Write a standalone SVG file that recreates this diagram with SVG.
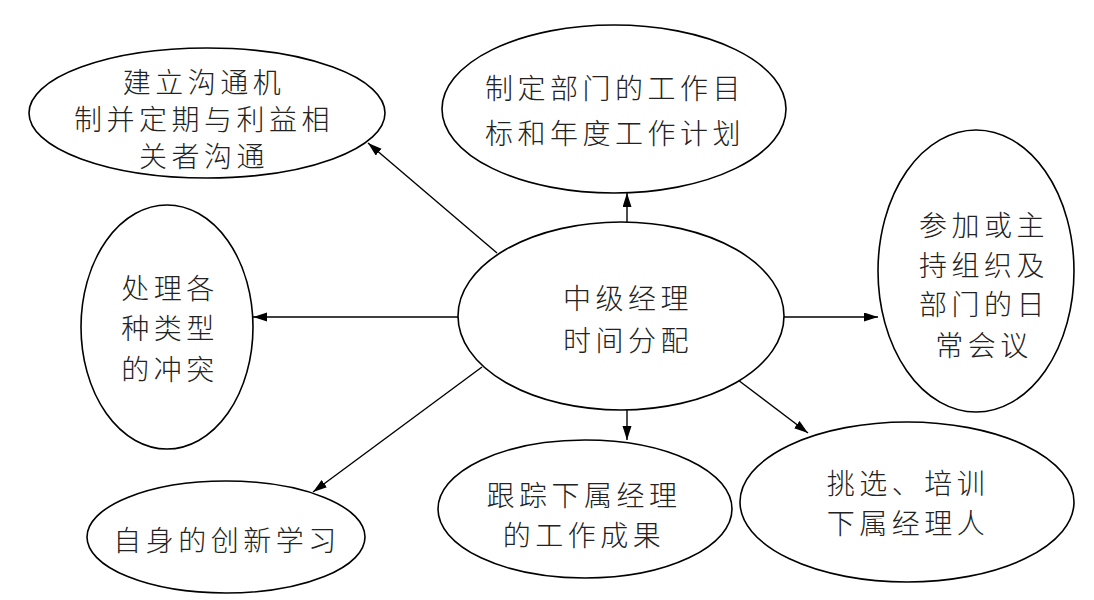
<svg xmlns="http://www.w3.org/2000/svg" width="1094" height="600" viewBox="0 0 1094 600">
<style>
.node ellipse{fill:#fff;stroke:#000;stroke-width:1.6}
.node text{font-family:"Noto Sans CJK SC","Noto Sans",sans-serif;font-size:28px;font-weight:300;letter-spacing:4.5px;fill:#222;text-anchor:middle}
.conn line{stroke:#000;stroke-width:1.4;marker-end:url(#arr)}
</style>
<defs>
<marker id="arr" markerUnits="userSpaceOnUse" markerWidth="15" markerHeight="10" refX="14" refY="4.5" orient="auto">
<path d="M0,0 L14,4.5 L0,9 z" fill="#000"/>
</marker>
</defs>
<rect width="1094" height="600" fill="#fff"/>
<g id="connectors" class="conn">
<line x1="497" y1="253" x2="368" y2="143"/>
<line x1="627" y1="222" x2="627" y2="193"/>
<line x1="784" y1="317" x2="878" y2="317"/>
<line x1="459" y1="317" x2="253" y2="317"/>
<line x1="482" y1="367" x2="313" y2="492"/>
<line x1="627" y1="410" x2="627" y2="440"/>
<line x1="738" y1="380" x2="808" y2="433"/>
</g>
<g id="n-center" class="node">
<ellipse cx="621" cy="316" rx="163" ry="94"/>
<text x="628" y="309">中级经理</text>
<text x="628" y="351">时间分配</text>
</g>
<g id="n-topleft" class="node">
<ellipse cx="207" cy="113" rx="178" ry="65"/>
<text x="204" y="93">建立沟通机</text>
<text x="204" y="130">制并定期与利益相</text>
<text x="204" y="167">关者沟通</text>
</g>
<g id="n-top" class="node">
<ellipse cx="614" cy="109" rx="172" ry="84"/>
<text x="615" y="99">制定部门的工作目</text>
<text x="615" y="144">标和年度工作计划</text>
</g>
<g id="n-right" class="node">
<ellipse cx="976" cy="271" rx="98" ry="141"/>
<text x="984" y="236">参加或主</text>
<text x="984" y="276">持组织及</text>
<text x="984" y="315">部门的日</text>
<text x="984" y="356">常会议</text>
</g>
<g id="n-left" class="node">
<ellipse cx="167" cy="327" rx="86" ry="122"/>
<text x="170" y="299">处理各</text>
<text x="170" y="339">种类型</text>
<text x="170" y="380">的冲突</text>
</g>
<g id="n-bottomleft" class="node">
<ellipse cx="226" cy="537" rx="139" ry="56"/>
<text x="227" y="551">自身的创新学习</text>
</g>
<g id="n-bottom" class="node">
<ellipse cx="585" cy="509" rx="147" ry="69"/>
<text x="584" y="506">跟踪下属经理</text>
<text x="584" y="546">的工作成果</text>
</g>
<g id="n-bottomright" class="node">
<ellipse cx="907" cy="502" rx="167" ry="80"/>
<text x="908" y="494">挑选、培训</text>
<text x="908" y="534">下属经理人</text>
</g>
</svg>
